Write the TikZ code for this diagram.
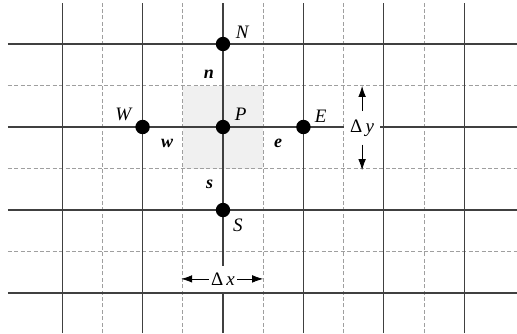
\documentclass[tikz,border=0pt]{standalone}
\usepackage{fontspec}
\setmainfont{Liberation Serif}
\usetikzlibrary{positioning, arrows.meta}
\tikzset
{
    gridline/.style={black!75, line width=0.55pt}, % full grid lines
    halfline/.style={gray!75, line width=0.4pt, dash pattern=on 2pt off 1.2pt}, % cell faces
    gridpt/.style={circle, fill=black, inner sep=0pt, minimum size=7.2pt},
    caplab/.style={font=\fontsize{9.5}{10}\selectfont\itshape},
    facelab/.style={font=\fontsize{9}{10}\selectfont\bfseries\itshape},
    dimlab/.style={fill=white, font=\fontsize{9.5}{10}\selectfont},
}

\begin{document}
\begin{tikzpicture}[x=20.1pt, y=20.75pt, >={Latex[length=5.5pt, width=3.8pt]}]
    \useasboundingbox (-5.547,-4.964) rectangle (7.313,3.06);

    % Volume de controle
    \fill[black!6] (-1,-1) rectangle (1,1);

    % Malha
    \foreach \xx in {-3,-1,1,3,5}
        \draw[halfline] (\xx,-4.964) -- (\xx,2.99);
    \foreach \yy in {-3,-1,1}
        \draw[halfline] (-5.35,\yy) -- (7.313,\yy);
    \foreach \xx in {-4,-2,0,2,4,6}
        \draw[gridline] (\xx,-4.964) -- (\xx,2.99);
    \foreach \yy in {-4,-2,0,2}
        \draw[gridline] (-5.35,\yy) -- (7.313,\yy);

    % Nós
    \node[gridpt] (P) at (0,0) {};
    \node[gridpt] (W) at (-2,0) {};
    \node[gridpt] (E) at (2,0) {};
    \node[gridpt] (N) at (0,2) {};
    \node[gridpt] (S) at (0,-2) {};

    \node[caplab] (Plab) at (0.44,0.3) {P};
    \node[caplab] (Wlab) at (-2.48,0.3) {W};
    \node[caplab] (Elab) at (2.43,0.27) {E};
    \node[caplab] (Nlab) at (0.48,2.29) {N};
    \node[caplab] (Slab) at (0.37,-2.36) {S};

    % Faces
    \node[facelab] (nlab) at (-0.35,1.28) {n};
    \node[facelab] (wlab) at (-1.39,-0.39) {w};
    \node[facelab] (elab) at (1.37,-0.39) {e};
    \node[facelab] (slab) at (-0.33,-1.37) {s};

    % Espaçamentos
    \coordinate (dxl) at (-1.04,-3.66);
    \coordinate (dxr) at (1.0,-3.66);
    \node[dimlab, inner xsep=1pt, inner ysep=3.5pt] (dx) at (0,-3.66) {Δ\,\textit{x}};
    \draw[->] (dx) -- (dxl);
    \draw[->] (dx) -- (dxr);

    \coordinate (dyt) at (3.46,0.99);
    \coordinate (dyb) at (3.46,-1.04);
    \node[dimlab, inner xsep=3pt, inner ysep=4pt] (dy) at (3.46,-0.02) {Δ\,\textit{y}};
    \draw[->] (dy) -- (dyt);
    \draw[->] (dy) -- (dyb);
\end{tikzpicture}
\end{document}
